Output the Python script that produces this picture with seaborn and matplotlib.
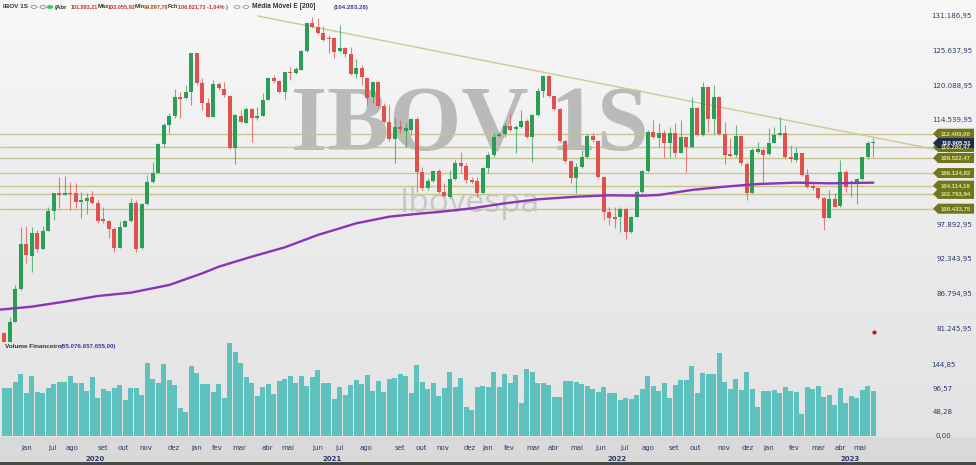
import numpy as np
import pandas as pd
import matplotlib
matplotlib.use("Agg")
import matplotlib.pyplot as plt
import seaborn as sns
from matplotlib.transforms import blended_transform_factory
from matplotlib.patches import Polygon, Rectangle, Circle
from matplotlib.colors import LinearSegmentedColormap

# ---------------- data (weekly candles, values in thousands of points) ----------------
opens = [80.65, 79.21, 82.40, 87.56, 94.75, 92.88, 96.61, 93.95, 96.93, 100.12,
         102.99, 102.57, 102.99, 102.89, 101.45, 101.72, 102.25, 101.40, 98.79, 98.47,
         97.14, 94.21, 97.57, 98.52, 101.40, 94.11, 101.13, 104.75, 106.19, 110.70,
         113.79, 115.23, 118.21, 118.05, 119.11, 125.23, 120.44, 117.36, 115.12, 120.34,
         119.54, 118.42, 110.07, 115.23, 114.16, 116.35, 114.86, 115.23, 117.78, 121.24,
         120.81, 119.00, 122.30, 122.04, 122.57, 125.65, 130.12, 129.48, 128.53, 127.73,
         127.62, 125.65, 126.03, 125.12, 121.88, 122.84, 121.24, 118.21, 120.71, 116.82,
         114.32, 111.50, 113.42, 112.89, 113.00, 114.75, 106.34, 103.68, 104.91, 106.45,
         103.15, 102.35, 105.12, 107.78, 107.25, 105.01, 104.85, 102.99, 106.98, 109.00,
         112.04, 112.35, 113.63, 113.21, 113.42, 114.48, 111.82, 115.39, 119.22, 121.61,
         118.42, 116.29, 111.29, 108.05, 105.28, 107.04, 108.63, 112.04, 111.29, 105.54,
         99.96, 99.05, 99.05, 100.39, 96.77, 99.16, 103.15, 106.50, 112.73, 111.66,
         112.57, 110.97, 112.46, 109.38, 111.82, 110.23, 116.56, 112.19, 119.91, 114.70,
         118.21, 112.35, 109.16, 109.00, 112.04, 107.57, 102.99, 109.54, 109.80, 109.16,
         110.97, 112.19, 112.46, 108.63, 108.21, 109.27, 105.81, 104.06, 103.68, 102.09,
         99.00, 101.93, 100.86, 106.34, 104.48, 104.48, 105.17, 108.63, 110.86]
highs = [80.81, 83.20, 88.26, 97.57, 97.67, 97.57, 97.03, 97.67, 100.76, 102.99,
         105.54, 105.70, 104.75, 104.48, 103.15, 102.89, 103.26, 101.82, 100.76, 98.63,
         97.57, 98.52, 98.63, 102.09, 101.82, 101.29, 105.81, 107.94, 110.86, 114.06,
         115.65, 119.48, 119.11, 120.18, 125.23, 125.23, 121.24, 118.05, 120.97, 120.71,
         120.71, 118.58, 115.49, 116.19, 116.61, 116.45, 116.72, 118.85, 121.51, 121.77,
         120.97, 122.30, 123.00, 123.10, 125.76, 130.12, 131.08, 130.81, 129.59, 128.15,
         127.89, 129.75, 126.29, 126.29, 124.27, 123.37, 121.51, 120.71, 120.87, 117.25,
         117.14, 114.86, 114.59, 114.06, 114.86, 115.01, 107.14, 105.28, 106.61, 106.72,
         104.48, 106.61, 108.21, 109.54, 107.67, 105.54, 105.54, 107.14, 109.54, 112.46,
         112.73, 114.06, 115.65, 113.79, 116.19, 114.70, 115.55, 119.64, 121.77, 121.77,
         118.58, 116.45, 111.40, 108.21, 107.67, 109.80, 112.35, 112.57, 111.40, 105.65,
         100.76, 100.76, 100.65, 100.76, 99.27, 103.42, 106.61, 113.00, 114.59, 114.06,
         113.00, 113.53, 114.16, 114.59, 111.93, 118.31, 116.72, 120.71, 120.02, 120.18,
         118.42, 114.32, 111.66, 113.79, 112.19, 107.94, 110.07, 111.13, 110.07, 113.26,
         113.53, 115.01, 113.79, 110.60, 110.33, 109.38, 106.72, 104.75, 103.95, 102.35,
         103.42, 102.99, 108.21, 106.61, 105.01, 105.28, 108.74, 111.29, 111.66]
lows = [79.21, 79.21, 82.40, 87.46, 91.71, 90.38, 93.58, 93.95, 96.93, 98.63,
        100.49, 102.57, 100.23, 100.49, 98.89, 99.59, 101.18, 98.10, 98.10, 95.71,
        93.58, 94.11, 97.57, 98.36, 93.58, 93.95, 101.02, 104.59, 106.08, 110.33,
        112.57, 114.86, 114.86, 117.89, 116.98, 120.18, 116.19, 115.12, 115.12, 119.38,
        118.31, 109.91, 107.57, 114.16, 114.06, 111.13, 114.59, 115.23, 117.78, 120.55,
        118.95, 117.89, 120.97, 121.93, 122.57, 125.49, 129.22, 128.31, 127.25, 125.23,
        124.43, 125.49, 124.70, 121.77, 121.24, 120.18, 116.98, 117.25, 116.72, 114.06,
        111.29, 107.67, 112.46, 110.33, 112.19, 103.15, 103.42, 103.42, 104.75, 102.89,
        102.25, 102.09, 105.01, 106.08, 104.59, 104.48, 102.35, 102.89, 106.08, 108.74,
        111.93, 111.93, 112.89, 109.27, 113.26, 111.66, 107.94, 115.23, 118.31, 118.21,
        116.19, 111.13, 107.78, 104.48, 102.89, 106.88, 108.47, 111.13, 105.28, 98.63,
        97.83, 97.30, 96.77, 95.54, 96.61, 99.05, 102.99, 106.34, 111.66, 110.33,
        108.47, 108.74, 108.74, 109.27, 106.34, 110.07, 112.04, 112.04, 112.73, 112.35,
        112.19, 107.57, 108.74, 108.74, 107.41, 101.82, 102.89, 109.27, 104.48, 109.00,
        110.86, 112.04, 108.47, 107.94, 107.94, 105.65, 103.68, 103.42, 101.98, 97.03,
        98.89, 100.65, 100.76, 103.15, 102.35, 101.13, 105.01, 108.31, 108.74]
closes = [79.21, 82.40, 87.56, 94.75, 93.04, 96.61, 93.95, 96.93, 100.12, 102.99,
          102.57, 102.99, 102.78, 101.45, 101.82, 102.19, 101.29, 98.47, 98.47, 97.14,
          94.11, 97.57, 98.41, 101.29, 93.95, 101.13, 104.75, 106.19, 110.70, 113.79,
          115.23, 118.21, 117.99, 119.11, 125.23, 120.44, 117.36, 115.12, 120.34, 119.64,
          118.58, 110.07, 115.39, 114.32, 116.35, 114.86, 115.23, 117.78, 121.24, 120.81,
          119.00, 122.20, 122.04, 122.68, 125.65, 130.12, 129.48, 128.42, 127.36, 127.52,
          125.49, 126.03, 125.12, 121.88, 122.84, 121.51, 118.05, 120.71, 116.82, 114.32,
          111.50, 113.42, 113.15, 113.26, 114.75, 106.34, 103.68, 104.91, 106.45, 103.15,
          102.46, 105.12, 107.78, 107.25, 105.01, 104.75, 102.89, 106.98, 109.00, 111.93,
          112.35, 113.63, 113.00, 113.42, 114.48, 111.82, 115.39, 119.22, 121.61, 118.42,
          116.29, 111.29, 108.05, 105.28, 107.14, 108.63, 112.04, 111.40, 105.54, 99.96,
          98.89, 98.73, 100.39, 96.77, 99.16, 103.15, 106.50, 112.73, 111.82, 112.57,
          110.86, 112.46, 109.38, 111.82, 110.23, 116.56, 112.19, 119.91, 114.70, 118.21,
          112.35, 109.00, 108.90, 112.04, 107.78, 102.99, 109.80, 109.91, 109.00, 110.97,
          112.19, 112.46, 108.63, 108.36, 109.27, 105.81, 103.95, 103.79, 102.09, 98.89,
          101.93, 100.76, 106.34, 103.95, 104.64, 105.17, 108.63, 110.86, 110.91]
volume = [97.9, 97.9, 111.6, 126.7, 89.0, 123.9, 89.7, 89.0, 97.9, 106.1,
          110.9, 110.9, 123.2, 109.5, 109.5, 93.1, 121.9, 78.7, 95.9, 93.1,
          97.9, 104.8, 73.3, 99.3, 99.3, 83.5, 150.6, 116.4, 108.9, 147.9,
          115.7, 105.4, 56.8, 50.0, 143.8, 128.7, 106.1, 106.1, 90.4, 107.5,
          78.1, 191.7, 173.2, 149.3, 120.5, 109.5, 82.8, 100.0, 106.8, 86.3,
          113.7, 116.4, 123.2, 108.2, 123.2, 102.7, 121.9, 135.6, 108.2, 108.2,
          75.3, 100.0, 84.2, 104.1, 115.0, 106.8, 125.3, 93.1, 112.3, 90.4,
          117.1, 119.8, 126.7, 123.9, 87.7, 145.8, 111.5, 96.5, 109.5, 82.8,
          97.9, 132.1, 101.3, 118.5, 60.2, 53.4, 101.3, 102.7, 101.3, 132.1,
          101.3, 127.3, 108.2, 125.3, 68.5, 136.9, 132.1, 109.5, 109.5, 104.8,
          80.8, 80.8, 113.0, 113.0, 110.2, 106.8, 102.7, 95.9, 91.1, 101.3,
          89.0, 89.0, 73.9, 77.4, 75.3, 84.2, 96.5, 123.2, 103.4, 92.4,
          109.5, 77.4, 104.8, 115.0, 115.0, 143.8, 89.0, 128.7, 127.3, 127.3,
          169.8, 111.6, 95.9, 117.1, 94.5, 132.1, 96.5, 58.9, 92.4, 92.4,
          94.5, 87.6, 101.3, 93.1, 91.1, 44.5, 101.3, 95.9, 103.4, 79.4,
          84.2, 63.7, 99.3, 68.5, 82.8, 77.4, 94.5, 102.7, 92.4]

# exponential moving average (200), read at selected weeks
ma_week = [-0.8, 5, 11, 17, 23, 30, 36, 39, 45, 51, 57, 64, 70, 76, 79, 85, 91, 97,
           104, 110, 116, 119, 125, 131, 137, 144, 150, 158]
ma_value = [84.32, 84.80, 85.60, 86.50, 87.03, 88.26, 90.12, 91.18, 92.78, 94.27, 96.24,
            98.10, 99.16, 99.69, 99.91, 100.49, 101.29, 101.93, 102.35, 102.57, 102.51,
            102.62, 103.42, 103.95, 104.37, 104.59, 104.48, 104.59]

# support / resistance levels and trendline
levels = [112.400, 110.280, 108.52247, 106.12482, 104.11419, 102.79394, 100.43375]
level_labels = ["112.400,00", "110.280,47", "108.522,47", "106.124,82", "104.114,19",
                "102.793,94", "100.433,75"]
last_price = 110.90551
last_label = "110.905,51"
trend_week = [46.1, 173.8]
trend_price = [131.19, 109.10]
alert_week, alert_price = 158.1, 80.75

price_ticks = [131.18695, 125.63795, 120.08895, 114.53995, 97.89295, 92.34395, 86.79495, 81.24595]
price_tick_labels = ["131.186,95", "125.637,95", "120.088,95", "114.539,95", "97.892,95",
                     "92.343,95", "86.794,95", "81.245,95"]
vol_ticks = [144.85, 96.57, 48.28, 0.0]
vol_tick_labels = ["144,85", "96,57", "48,28", "0,00"]

month_labels = ["jan", "jul", "ago", "set", "out", "nov", "dez", "jan", "fev", "mar", "abr", "mai",
                "jun", "jul", "ago", "set", "out", "nov", "dez", "jan", "fev", "mar", "abr", "mai",
                "jun", "jul", "ago", "set", "out", "nov", "dez", "jan", "fev", "mar", "abr", "mai"]
month_week = [4.1, 8.7, 12.3, 17.9, 21.6, 25.8, 30.9, 34.9, 38.7, 42.7, 47.8, 51.6,
              57.0, 60.9, 65.8, 72.0, 75.8, 79.8, 84.7, 87.8, 91.9, 96.1, 99.9, 104.1,
              108.5, 112.7, 117.0, 121.8, 125.6, 130.9, 135.1, 138.9, 143.6, 148.0, 152.0, 155.6]
year_labels = ["2020", "2021", "2022", "2023"]
year_week = [16.5, 59.6, 111.4, 153.8]

# ---------------- styling ----------------
sns.set_theme(style="white")
plt.rcParams['font.family'] = ['DejaVu Sans']

W, H = 976, 465
PX = 5.5                      # pixels per week
XMIN = -0.78
XMAX = XMIN + W / PX
GREEN, RED = "#2a9e57", "#e0504c"
NAVY = "#2b3a6b"

def fy(py):
    return 1 - py / H

def wk(px):
    return XMIN + px / PX

fig = plt.figure(figsize=(W / 100, H / 100), dpi=100)

# background
bg = fig.add_axes([0, 0, 1, 1], zorder=-10)
grad = np.linspace(0, 1, 256).reshape(-1, 1)
cmap = LinearSegmentedColormap.from_list('bg', ['#f8f8f8', '#ebebeb', '#e2e2e2'])
bg.imshow(grad, aspect='auto', cmap=cmap, extent=[0, 1, 0, 1], origin='upper')
bg.add_patch(Rectangle((0, 3 / H), 1, (462 - 437) / H, color='#d9d9d9', lw=0))
bg.add_patch(Rectangle((0, 0), 1, 3 / H, color='#4a4a4a', lw=0))
bg.set_xlim(0, 1); bg.set_ylim(0, 1); bg.set_axis_off()
bg.text(470 / W, fy(128), "IBOV 1S", ha='center', va='center', fontsize=67,
        family='Liberation Serif', weight='bold', color='#bababa')
bg.text(470 / W, fy(203), "Ibovespa", ha='center', va='center', fontsize=24,
        family='Open Sans', color='#c8c8c8')

# ---------------- price panel ----------------
ax = fig.add_axes([0, fy(345), 1, 345 / H])
ax.patch.set_alpha(0)
idx = np.arange(len(opens))
o, h, l, c = (np.array(a) for a in (opens, highs, lows, closes))
up = c >= o
cols = np.where(up, GREEN, RED)

ax.hlines(levels, XMIN, wk(935), color='#c9c48e', lw=1.0, zorder=1)
ax.plot(trend_week, trend_price, color='#cdc795', lw=1.0, zorder=1)
ax.vlines(idx, l, h, colors=cols, lw=0.8, alpha=0.7, zorder=3)
body = np.maximum(np.abs(c - o), 0.18)
ax.bar(idx, body, bottom=np.minimum(o, c), width=0.72, color=cols, lw=0, zorder=4)
sns.lineplot(x=ma_week, y=ma_value, ax=ax, color='#8a35b8', lw=1.7, zorder=5, sort=False)
ax.scatter([alert_week], [alert_price], s=4, color='#b02020', zorder=6)

ax.set_xlim(XMIN, XMAX)
ax.set_ylim(78.68, 133.74)
ax.set_axis_off()

tr = blended_transform_factory(ax.transAxes, ax.transData)
for p, lab in zip(price_ticks, price_tick_labels):
    ax.text(972 / W, p, lab, transform=tr, ha='right', va='center', fontsize=5, color=NAVY)

def tag(price, text, face, fg):
    x0, x1, tip = 933 / W, 974 / W, 5 / W
    hh = 0.8
    poly = Polygon([(x0, price), (x0 + tip, price + hh), (x1, price + hh),
                    (x1, price - hh), (x0 + tip, price - hh)], closed=True,
                   transform=tr, facecolor=face, edgecolor='none', zorder=7, clip_on=False)
    ax.add_patch(poly)
    ax.text((938 + 974) / 2 / W, price, text, transform=tr, ha='center', va='center',
            fontsize=4.3, color=fg, zorder=8, family='Liberation Sans', weight='bold')

order = [1, 0, 2, 3, 4, 5, 6]
for k in order:
    tag(levels[k], level_labels[k], '#6f761c', '#e6e29c')
tag(last_price, last_label, '#1d2a4d', 'white')

# ---------------- volume panel ----------------
axv = fig.add_axes([0, fy(436), 1, 96 / H])
axv.patch.set_alpha(0)
vdf = pd.DataFrame({'week': idx, 'volume': volume})
sns.barplot(data=vdf, x='week', y='volume', native_scale=True, width=0.86,
            color='#5ec1bd', saturation=1, ax=axv, linewidth=0)
axv.set_xlim(XMIN, XMAX)
axv.set_ylim(0, 197.2)
axv.set_axis_off()
trv = blended_transform_factory(axv.transAxes, axv.transData)
for v, lab in zip(vol_ticks, vol_tick_labels):
    axv.text(943 / W, v, lab, transform=trv, ha='center', va='center', fontsize=5, color=NAVY)

# axis labels (months / years)
trx = blended_transform_factory(axv.transData, fig.transFigure)
for m, w in zip(month_labels, month_week):
    axv.text(w, fy(448), m, transform=trx, ha='center', va='center', fontsize=5,
             color=NAVY, clip_on=False)
for yl, w in zip(year_labels, year_week):
    axv.text(w, fy(459), yl, transform=trx, ha='center', va='center', fontsize=5,
             color=NAVY, weight='bold', clip_on=False)

# ---------------- header texts ----------------
DARK, VAL, MAV = '#333333', '#c0392b', '#3b3b9a'
header = [(3, "IBOV 1S", DARK, 4.6), (55, "(Abr", DARK, 4.4), (71, "101.883,21", VAL, 4.0),
          (98, "Máx", DARK, 4.2), (108, "103.055,92", VAL, 4.0), (135, "Mín", DARK, 4.2),
          (144, "99.897,78", '#a0522d', 4.0), (168, "Fch", DARK, 4.2),
          (178, "106.821,73 -1,04% )", VAL, 4.0), (252, "Média Móvel E [200]", DARK, 4.8),
          (334, "(104.283,28)", MAV, 4.4)]
for x, t, col, fs in header:
    fig.text(x / W, fy(7), t, ha='left', va='center', fontsize=fs, color=col,
             weight='bold', family='Liberation Sans')
for cx, fc, ec in [(34, 'none', '#888888'), (43, 'none', '#888888'), (50, '#2ecc71', '#2ecc71'),
                   (237, 'none', '#999999'), (246, 'none', '#999999')]:
    bg.add_patch(Circle((cx / W, fy(7)), 3.0 / W, transform=bg.transAxes, facecolor=fc,
                        edgecolor=ec, lw=0.6))
fig.text(5 / W, fy(346), "Volume Financeiro", ha='left', va='center', fontsize=4.6,
         color=DARK, weight='bold', family='Liberation Sans')
fig.text(61 / W, fy(346), "(65.076.657.655,00)", ha='left', va='center', fontsize=4.4,
         color=MAV, weight='bold', family='Liberation Sans')

fig.savefig("out.png", dpi=100)
